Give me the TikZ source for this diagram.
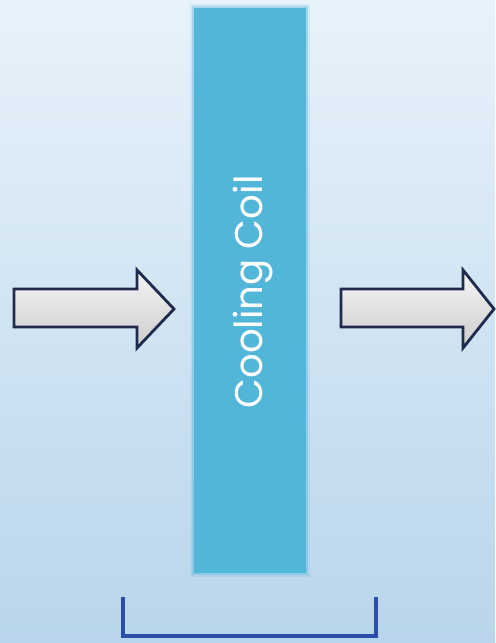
\documentclass[tikz,border=0pt]{standalone}
\usepackage{fontspec}
\setsansfont{Poppins}
\usepackage{tikz}
\usetikzlibrary{positioning}
\usetikzlibrary{calc}

\definecolor{bgtop}{HTML}{E8F2FA}
\definecolor{bgbot}{HTML}{B9D5EB}
\definecolor{coilblue}{HTML}{52B6D9}
\definecolor{arrowedge}{HTML}{1E2B4C}
\definecolor{bracketblue}{HTML}{2B4EA6}

\tikzset{
  flowarrow/.style={draw=arrowedge, line width=1.6pt, line join=miter,
    top color=white!92!gray, middle color=white, bottom color=gray!40},
  coilbox/.style={fill=coilblue, draw=none},
  bracketline/.style={draw=bracketblue, line width=2.8pt}
}

\begin{document}
\begin{tikzpicture}[x=0.02cm, y=-0.02cm]
        % background
        \shade[top color=bgtop, bottom color=bgbot] (0,0) rectangle (495,643);
        \useasboundingbox (0,0) rectangle (495,643);

        % cooling coil with soft edge
        \fill[coilblue, opacity=0.15] (190,4) rectangle (310,577);
        \fill[coilblue, opacity=0.35] (192,6) rectangle (308,575);
        \node[coilbox, minimum width=0.02cm*112, minimum height=0.02cm*565,
              inner sep=0pt] (coil) at (250,290.5) {};
        \node[rotate=90, text=white, font=\sffamily\fontsize{22}{22}\selectfont,
              inner sep=0pt] (coiltext) at (253,292) {Cooling Coil};

        % air in
        \path[flowarrow] (14,289) -- (137,289) -- (137,270) -- (174,309)
              -- (137,348) -- (137,327) -- (14,327) -- cycle;
        % air out
        \path[flowarrow] (341,289) -- (463,289) -- (463,270) -- (494,309)
              -- (463,348) -- (463,327) -- (341,327) -- cycle;

        % bracket
        \coordinate (bl) at (123,597);
        \coordinate (br) at (376,597);
        \draw[bracketline] (bl) -- ($(bl)+(0,39)$) -- ($(br)+(0,39)$) -- (br);
    \end{tikzpicture}
\end{document}
